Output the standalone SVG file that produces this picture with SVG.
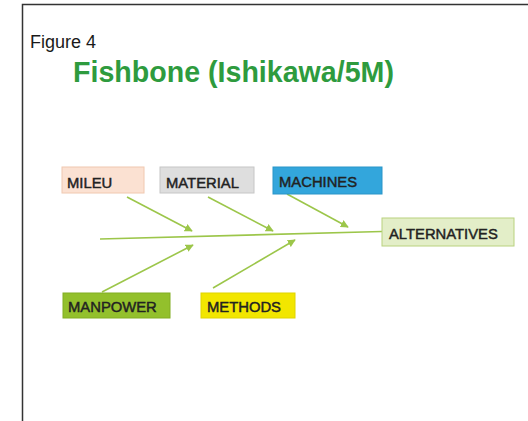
<svg xmlns="http://www.w3.org/2000/svg" width="528" height="421" viewBox="0 0 528 421">
<style>
.frame{stroke:#333;stroke-width:1.5;fill:none}
.lbl{font-family:"Liberation Sans",Arial,sans-serif;font-size:14.8px;fill:#222;stroke:#222;stroke-width:0.45}
.box{stroke-width:1}
.con{stroke:#9cc64a;stroke-width:1.6;fill:none}
</style>
<defs>
<marker id="ah" viewBox="0 0 10 10" refX="9" refY="5" markerWidth="5" markerHeight="5" orient="auto" markerUnits="strokeWidth">
<path d="M0,0 L10,5 L0,10 z" fill="#9cc64a"/>
</marker>
</defs>
<rect width="528" height="421" fill="#fff"/>
<path class="frame" d="M22.5,421 V4.5 H528"/>
<text x="30" y="48" font-family="Liberation Sans,Arial,sans-serif" font-size="18" fill="#1a1a1a">Figure 4</text>
<text x="73" y="82" font-family="Liberation Sans,Arial,sans-serif" font-size="28.6" font-weight="bold" fill="#2e9b3e">Fishbone (Ishikawa/5M)</text>
<g id="connectors">
<line class="con" x1="100" y1="239" x2="382" y2="231.5"/>
<line class="con" x1="127" y1="197" x2="192" y2="231" marker-end="url(#ah)"/>
<line class="con" x1="208" y1="197" x2="273" y2="231" marker-end="url(#ah)"/>
<line class="con" x1="287" y1="194" x2="348" y2="227" marker-end="url(#ah)"/>
<line class="con" x1="102" y1="292" x2="193" y2="245" marker-end="url(#ah)"/>
<line class="con" x1="213" y1="288" x2="295" y2="240" marker-end="url(#ah)"/>
</g>
<g id="mileu">
<rect class="box" x="62" y="167" width="82" height="26" fill="#fbe1d2" stroke="#f0c8b0"/>
<text class="lbl" x="67" y="187.5">MILEU</text>
</g>
<g id="material">
<rect class="box" x="160" y="167" width="94" height="26" fill="#dedede" stroke="#c6c6c6"/>
<text class="lbl" x="166" y="187.5">MATERIAL</text>
</g>
<g id="machines">
<rect class="box" x="273" y="167" width="109" height="27" fill="#33a6dc" stroke="#2a95c8"/>
<text class="lbl" x="279" y="187">MACHINES</text>
</g>
<g id="alternatives">
<rect class="box" x="382" y="218" width="132" height="28" fill="#e3eec8" stroke="#b9d27f"/>
<text class="lbl" x="389" y="238.5">ALTERNATIVES</text>
</g>
<g id="manpower">
<rect class="box" x="63" y="293" width="107" height="25" fill="#93c02c" stroke="#82ad22"/>
<text class="lbl" x="68" y="311.5">MANPOWER</text>
</g>
<g id="methods">
<rect class="box" x="201" y="293" width="94" height="25" fill="#f2e600" stroke="#e0d400"/>
<text class="lbl" x="207" y="311.5">METHODS</text>
</g>
</svg>
